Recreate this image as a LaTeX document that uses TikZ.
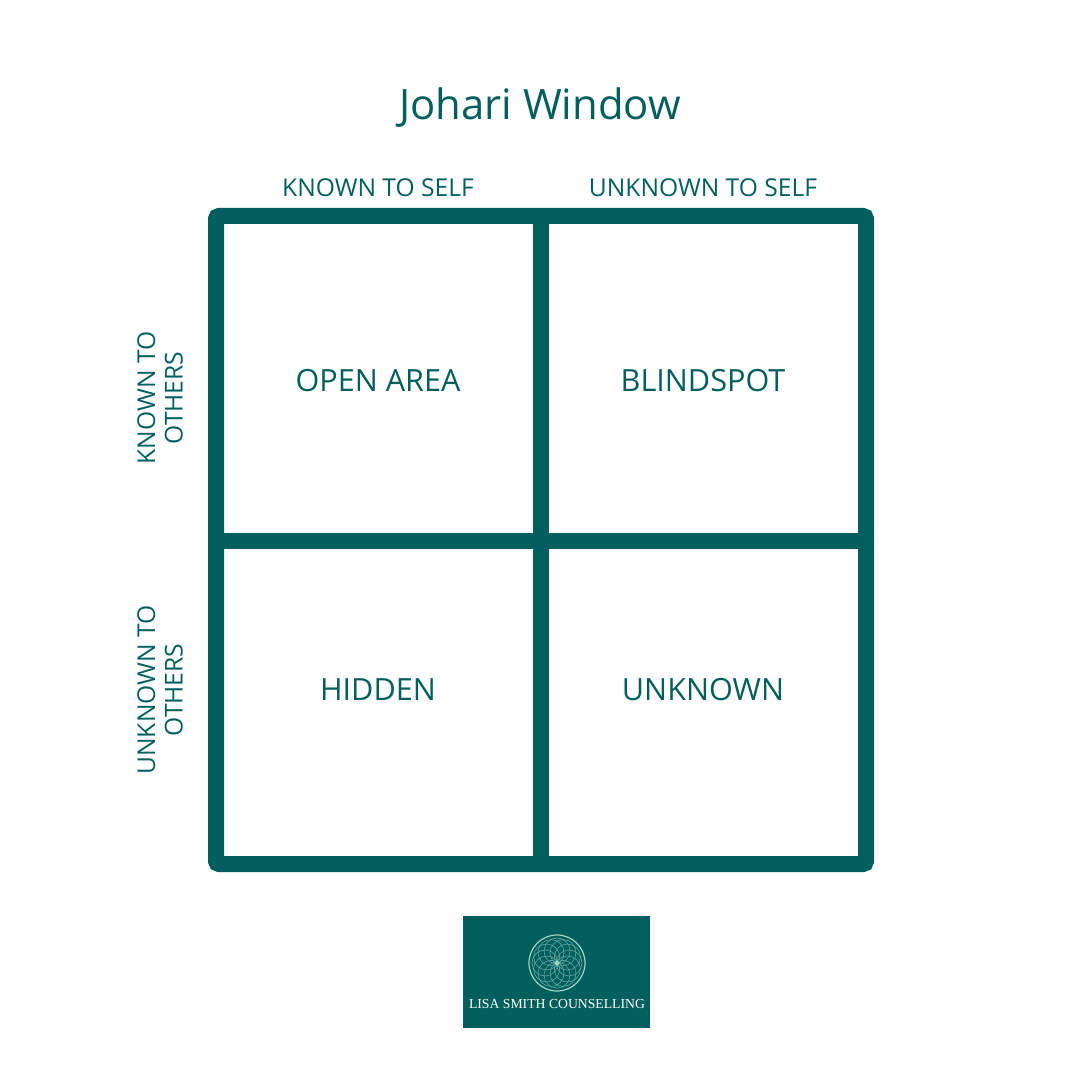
\documentclass[tikz,border=0pt]{standalone}
\usepackage{fontspec}
\usetikzlibrary{calc}
\setmainfont{Open Sans}
\newfontfamily\serifl{Liberation Serif}
\definecolor{teal}{HTML}{035F5E}
\definecolor{mint}{HTML}{9FD3C9}
\tikzset{
  frame/.style={draw=teal,line width=0.16cm,rounded corners=0.03cm},
  div/.style={draw=teal,line width=0.16cm},
  cell/.style={text=teal,font=\fontsize{8.7}{10}\selectfont},
  head/.style={text=teal,font=\fontsize{7}{7.8}\selectfont},
}
\begin{document}
\begin{tikzpicture}[x=0.01cm,y=-0.01cm]
\useasboundingbox (0,0) rectangle (1080,1080);
\node[text=teal,font=\fontsize{11.9}{13}\selectfont] (title) at (540,108) {Johari Window};
\node[head] (ks) at (378,188) {KNOWN TO SELF};
\node[head] (us) at (703,188) {UNKNOWN TO SELF};
\node[head,rotate=90,align=center] (ko) at (160,398) {KNOWN TO\\OTHERS};
\node[head,rotate=90,align=center] (uo) at (160,690) {UNKNOWN TO\\OTHERS};
\draw[frame] (216,216) rectangle (866,864);
\draw[div] (541,216) -- (541,864);
\draw[div] (216,541) -- (866,541);
\node[cell] (open) at (378,381) {OPEN AREA};
\node[cell] (blind) at (703,381) {BLINDSPOT};
\node[cell] (hid) at (378,690) {HIDDEN};
\node[cell] (unk) at (703,690) {UNKNOWN};
\fill[teal] (463,916) rectangle (650,1028);
\coordinate (lc) at (557,963);
\draw[mint,line width=0.012cm] (lc) circle (0.28cm);
\foreach \a in {0,30,...,330}{\draw[mint,line width=0.006cm,opacity=0.6] ($(lc)+(\a:0.12cm)$) circle (0.13cm);}
\fill[mint] (lc) circle (0.02cm);
\node[text=white,font=\serifl\fontsize{3.9}{4.5}\selectfont] (logo) at (557,1004) {LISA SMITH COUNSELLING};
\end{tikzpicture}
\end{document}
